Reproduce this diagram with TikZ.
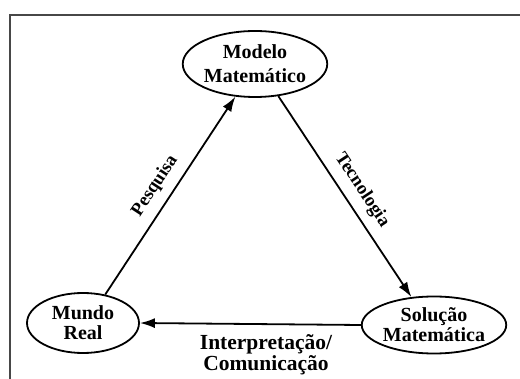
\documentclass[tikz,border=0pt]{standalone}
\usepackage{fontspec}
\setmainfont{Liberation Serif}
\usetikzlibrary{shapes.geometric,arrows.meta}
\begin{document}
\begin{tikzpicture}[x=1pt,y=-1pt,
  oval/.style={draw,ellipse,line width=1.8pt,inner sep=0pt,align=center,
    font=\bfseries\fontsize{20}{20}\selectfont},
  conn/.style={line width=1.8pt,-{Latex[length=15pt,width=10pt]}},
  lbl/.style={font=\bfseries\fontsize{18.5}{18.5}\selectfont,inner sep=0pt}]
\useasboundingbox (0,0) rectangle (520,379);
\draw[line width=2pt,color=black!72] (9.5,379) -- (9.5,15.5) -- (520,15.5);
\node[oval,minimum width=128pt,minimum height=66pt,font=\bfseries\fontsize{20}{24}\selectfont] (modelo) at (255,64) {Modelo\\Matemático};
\node[oval,minimum width=112pt,minimum height=60pt] (mundo) at (83,323) {Mundo\\Real};
\node[oval,minimum width=118pt,minimum height=57pt] (solucao) at (434,325) {Solução\\Matemática};
\draw[conn] (mundo.52) -- (modelo.239);
\draw[conn] (modelo.306) -- (solucao.129);
\draw[conn] (solucao.west) -- (mundo.east);
\node[lbl,rotate=56.7] (pesq) at (155,186) {Pesquisa};
\node[lbl,rotate=-56.5] (tec) at (362,190) {Tecnologia};
\node[align=center,inner sep=0pt,font=\bfseries\fontsize{21.5}{19}\selectfont] (interp) at (266,355) {Interpretação/\\Comunicação};
\end{tikzpicture}
\end{document}
